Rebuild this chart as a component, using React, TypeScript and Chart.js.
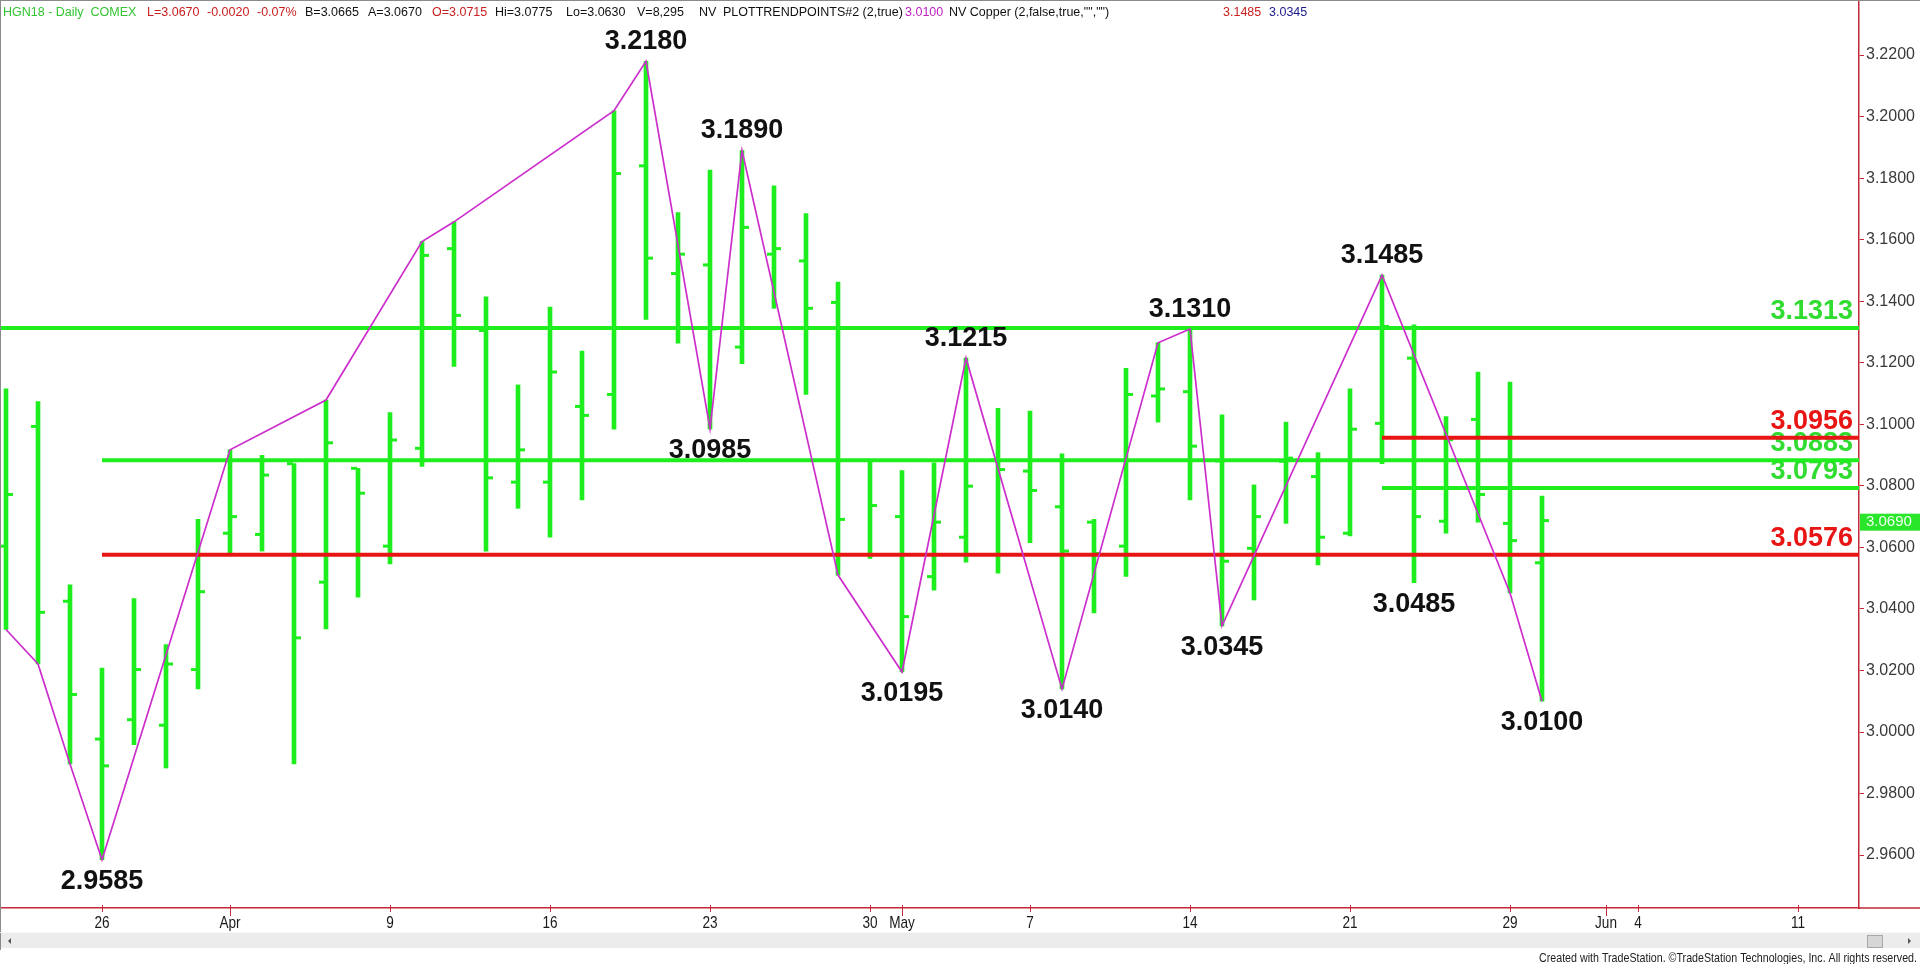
import React, { useEffect, useRef } from 'react';
import { Chart, registerables } from 'chart.js';

Chart.register(...registerables);

// ---- Data (HGN18 Daily, COMEX copper) ----
const tradingDays = [
  'Mar 21', 'Mar 22', 'Mar 23', 'Mar 26', 'Mar 27', 'Mar 28', 'Mar 29',
  'Apr 2', 'Apr 3', 'Apr 4', 'Apr 5', 'Apr 6', 'Apr 9', 'Apr 10', 'Apr 11', 'Apr 12', 'Apr 13',
  'Apr 16', 'Apr 17', 'Apr 18', 'Apr 19', 'Apr 20', 'Apr 23', 'Apr 24', 'Apr 25', 'Apr 26', 'Apr 27',
  'Apr 30', 'May 1', 'May 2', 'May 3', 'May 4', 'May 7', 'May 8', 'May 9', 'May 10', 'May 11',
  'May 14', 'May 15', 'May 16', 'May 17', 'May 18', 'May 21', 'May 22', 'May 23', 'May 24', 'May 25',
  'May 29', 'May 30',
];

const opens = [
  3.0604, 3.0993, 3.0425, 2.9977, 3.0040, 3.0022, 3.0203,
  3.0646, 3.0642, 3.0872, 3.0487, 3.0857, 3.0604, 3.0922, 3.1571, 3.1305, 3.0812,
  3.0812, 3.1058, 3.1097, 3.1840, 3.1490, 3.1518, 3.1251, 3.1553, 3.1531, 3.1396,
  3.0883, 3.0700, 3.0505, 3.0633, 3.0885, 3.0848, 3.0732, 3.0682, 3.0604, 3.1092,
  3.1106, 3.0881, 3.0597, 3.0880, 3.0830, 3.0646, 3.1003, 3.1215, 3.0685, 3.1016,
  3.0678, 3.0550,
];
const highs = [
  3.1115, 3.1074, 3.0478, 3.0208, 3.0434, 3.0284, 3.0691,
  3.0917, 3.0899, 3.0872, 3.1079, 3.0857, 3.1038, 3.1594, 3.1658, 3.1414, 3.1128,
  3.1381, 3.1238, 3.2019, 3.2180, 3.1688, 3.1826, 3.1890, 3.1775, 3.1685, 3.1462,
  3.0886, 3.0850, 3.0875, 3.1215, 3.1052, 3.1043, 3.0904, 3.0691, 3.1182, 3.1265,
  3.1310, 3.1031, 3.0803, 3.1007, 3.0908, 3.1115, 3.1485, 3.1323, 3.1025, 3.1170,
  3.1137, 3.0767,
];
const lows = [
  3.0333, 3.0221, 2.9896, 2.9585, 2.9959, 2.9883, 3.0140,
  3.0577, 3.0588, 2.9896, 3.0335, 3.0438, 3.0546, 3.0863, 3.1188, 3.0588, 3.0727,
  3.0633, 3.0754, 3.0984, 3.1341, 3.1264, 3.0985, 3.1197, 3.1377, 3.1097, 3.0510,
  3.0564, 3.0195, 3.0461, 3.0552, 3.0516, 3.0615, 3.0140, 3.0387, 3.0506, 3.1007,
  3.0754, 3.0345, 3.0429, 3.0678, 3.0543, 3.0637, 3.0872, 3.0485, 3.0646, 3.0682,
  3.0452, 3.0100,
];
const closes = [
  3.0772, 3.0389, 3.0122, 2.9890, 3.0203, 3.0221, 3.0456,
  3.0700, 3.0835, 3.0306, 3.0940, 3.0776, 3.0949, 3.1549, 3.1354, 3.0826, 3.0917,
  3.1170, 3.1029, 3.1815, 3.1540, 3.1553, 3.1310, 3.1640, 3.1571, 3.1377, 3.0691,
  3.0736, 3.0375, 3.0682, 3.0799, 3.0853, 3.0785, 3.0588, 3.0580, 3.1097, 3.1115,
  3.0929, 3.0555, 3.0700, 3.0890, 3.0633, 3.0984, 3.1318, 3.0700, 3.0950, 3.0772,
  3.0622, 3.0687,
];

// x-axis tick labels (trading-day index -> label)
const xTickIdx = [3, 7, 12, 17, 22, 27, 28, 32, 37, 42, 47, 50, 51, 56];
const xTickLabels = ['26', 'Apr', '9', '16', '23', '30', 'May', '7', '14', '21', '29', 'Jun', '4', '11'];
const xTickIsMonth = [false, true, false, false, false, false, true, false, false, false, false, true, false, false];

// y-axis ticks
const yTickStep = 0.02;

// PlotTrendPoints zig-zag
const trendIdx = [0, 1, 2, 3, 7, 10, 13, 14, 19, 20, 22, 23, 26, 28, 30, 33, 36, 37, 38, 43, 47, 48];
const trendVals = [
  3.0333, 3.0221, 2.9896, 2.9585, 3.0917, 3.1079, 3.1594, 3.1658, 3.2019, 3.2180, 3.0985,
  3.1890, 3.0510, 3.0195, 3.1215, 3.0140, 3.1265, 3.1310, 3.0345, 3.1485, 3.0452, 3.0100,
];

// swing labels
const pivotIdx = [3, 20, 22, 23, 28, 30, 33, 37, 38, 43, 44, 48];
const pivotVals = [2.9585, 3.2180, 3.0985, 3.1890, 3.0195, 3.1215, 3.0140, 3.1310, 3.0345, 3.1485, 3.0485, 3.0100];
const pivotAbove = [false, true, false, true, false, true, false, true, false, true, false, false];

// support / resistance levels
const levelVals = [3.1313, 3.0956, 3.0883, 3.0793, 3.0576];
const levelStartIdx = [null, 43, 3, 43, 3];
const levelIsRed = [false, true, false, false, true];

const lastPrice = 3.069;

// header items
const headerTexts = [
  'HGN18 - Daily  COMEX', 'L=3.0670', '-0.0020', '-0.07%', 'B=3.0665', 'A=3.0670', 'O=3.0715',
  'Hi=3.0775', 'Lo=3.0630', 'V=8,295', 'NV', 'PLOTTRENDPOINTS#2 (2,true)', '3.0100',
  'NV Copper (2,false,true,"","")', '3.1485', '3.0345',
];
const footerText = 'Created with TradeStation. \u00A9TradeStation Technologies, Inc. All rights reserved.';

// ---- styling / layout constants ----
const X_MIN = -0.1875;
const X_MAX = 57.906;
const Y_MIN = 2.9428;
const Y_MAX = 3.2379;
const GREEN = '#1EEE1E';
const GREEN_TXT = '#2FDC2F';
const RED = '#E81515';
const MAGENTA = '#CC2ECC';
const AXIS = '#C4283A';
const SANS = '"Liberation Sans", Arial, sans-serif';
const headerX = [3, 147, 207, 257, 305, 368, 432, 495, 566, 637, 699, 723, 905, 949, 1223, 1269];
const headerColors = [
  '#33C433', '#C82020', '#C82020', '#C82020', '#111', '#111', '#C82020',
  '#111', '#111', '#111', '#111', '#111', '#C020C0', '#111', '#C82020', '#1A1A8C',
];

function narrowText(ctx: CanvasRenderingContext2D, text: string, x: number, y: number, k: number, align: string) {
  ctx.save();
  ctx.translate(x, y);
  ctx.scale(k, 1);
  ctx.textAlign = align as CanvasTextAlign;
  ctx.fillText(text, 0, 0);
  ctx.restore();
}

const tsPlugin = {
  id: 'tsPlugin',
  beforeDatasetsDraw(chart: any) {
    const { ctx, scales, chartArea } = chart;
    const y = scales.y;
    ctx.save();
    ctx.font = `bold 27px ${SANS}`;
    ctx.textAlign = 'right';
    ctx.textBaseline = 'alphabetic';
    levelVals.forEach((v, i) => {
      ctx.fillStyle = levelIsRed[i] ? RED : GREEN_TXT;
      ctx.fillText(v.toFixed(4), chartArea.right - 6, y.getPixelForValue(v) - 9);
    });
    ctx.restore();
  },
  afterDatasetDraw(chart: any, args: any) {
    if (args.index !== 0) return;
    const { ctx, scales } = chart;
    const x = scales.x;
    const y = scales.y;
    ctx.save();
    ctx.fillStyle = GREEN;
    for (let i = 0; i < opens.length; i++) {
      const px = Math.round(x.getPixelForValue(i));
      const po = y.getPixelForValue(opens[i]);
      const pc = y.getPixelForValue(closes[i]);
      ctx.fillRect(px - 7, po - 1.5, 6, 3);
      ctx.fillRect(px + 1, pc - 1.5, 6, 3);
    }
    ctx.restore();
  },
  afterDatasetsDraw(chart: any) {
    const { ctx, scales } = chart;
    const x = scales.x;
    const y = scales.y;
    ctx.save();
    ctx.font = `bold 27px ${SANS}`;
    ctx.textAlign = 'center';
    ctx.fillStyle = '#111';
    pivotIdx.forEach((idx, i) => {
      const px = x.getPixelForValue(idx);
      const py = y.getPixelForValue(pivotVals[i]);
      if (pivotAbove[i]) {
        ctx.textBaseline = 'alphabetic';
        ctx.fillText(pivotVals[i].toFixed(4), px, py - 12);
      } else {
        ctx.textBaseline = 'top';
        ctx.fillText(pivotVals[i].toFixed(4), px, py + 8);
      }
    });
    ctx.restore();
  },
  afterDraw(chart: any) {
    const { ctx, scales, chartArea } = chart;
    const x = scales.x;
    const y = scales.y;
    const W = chart.width;
    const B = chartArea.bottom;
    ctx.save();
    // borders
    ctx.strokeStyle = '#8a8a8a';
    ctx.lineWidth = 1;
    ctx.beginPath();
    ctx.moveTo(0, 0.5);
    ctx.lineTo(W, 0.5);
    ctx.moveTo(0.5, 0);
    ctx.lineTo(0.5, 950);
    ctx.stroke();
    // bottom axis extension to the right edge
    ctx.strokeStyle = AXIS;
    ctx.lineWidth = 1.5;
    ctx.beginPath();
    ctx.moveTo(chartArea.right, B);
    ctx.lineTo(W, B);
    ctx.stroke();
    // x tick marks (crossing the axis, longer for months)
    ctx.lineWidth = 1;
    ctx.beginPath();
    xTickIdx.forEach((v, i) => {
      const px = Math.round(x.getPixelForValue(v)) + 0.5;
      ctx.moveTo(px, B - 3);
      ctx.lineTo(px, B + (xTickIsMonth[i] ? 8 : 4));
    });
    ctx.stroke();
    // x tick labels (narrow)
    ctx.fillStyle = '#1a1a1a';
    ctx.font = `17px ${SANS}`;
    ctx.textBaseline = 'middle';
    xTickIdx.forEach((v, i) => {
      narrowText(ctx, xTickLabels[i], x.getPixelForValue(v), B + 15.5, 0.8, 'center');
    });
    // header
    ctx.font = `12.5px ${SANS}`;
    ctx.textAlign = 'left';
    ctx.textBaseline = 'alphabetic';
    headerTexts.forEach((t, i) => {
      ctx.fillStyle = headerColors[i];
      ctx.fillText(t, headerX[i], 16);
    });
    // last price box
    const py = y.getPixelForValue(lastPrice);
    ctx.fillStyle = '#2AE62A';
    ctx.fillRect(chartArea.right + 1, py - 6, W - chartArea.right - 1, 17);
    ctx.fillStyle = '#EFFFEF';
    ctx.font = `15px ${SANS}`;
    ctx.textBaseline = 'middle';
    ctx.fillText(lastPrice.toFixed(4), chartArea.right + 7, py + 2.5);
    // scrollbar
    ctx.fillStyle = '#ECECEC';
    ctx.fillRect(1, 933, W - 1, 15);
    ctx.strokeStyle = '#F8F8F8';
    ctx.beginPath();
    ctx.moveTo(0, 932.5);
    ctx.lineTo(W, 932.5);
    ctx.stroke();
    ctx.fillStyle = '#D6D6D6';
    ctx.fillRect(1867, 935, 15, 12);
    ctx.strokeStyle = '#A8A8A8';
    ctx.strokeRect(1867.5, 935.5, 15, 12);
    ctx.fillStyle = '#555';
    ctx.beginPath();
    ctx.moveTo(1908, 938);
    ctx.lineTo(1911, 941);
    ctx.lineTo(1908, 944);
    ctx.closePath();
    ctx.fill();
    ctx.beginPath();
    ctx.moveTo(11, 938);
    ctx.lineTo(8, 941);
    ctx.lineTo(11, 944);
    ctx.closePath();
    ctx.fill();
    // footer (narrow)
    ctx.fillStyle = '#222';
    ctx.font = `13px ${SANS}`;
    ctx.textBaseline = 'alphabetic';
    const fw = ctx.measureText(footerText).width;
    narrowText(ctx, footerText, 1917, 962, 378 / fw, 'right');
    ctx.restore();
  },
};

export default function App() {
  const ref = useRef<HTMLCanvasElement>(null);
  useEffect(() => {
    document.body.style.margin = '0';
    const barData = highs.map((h, i) => ({ x: i, y: [lows[i], h] }));
    const levelDatasets = levelVals.map((v, i) => ({
      type: 'line' as const,
      label: 'L' + v,
      data: [
        { x: levelStartIdx[i] === null ? X_MIN : (levelStartIdx[i] as number), y: v },
        { x: X_MAX, y: v },
      ],
      borderColor: levelIsRed[i] ? RED : GREEN,
      borderWidth: 4,
      pointRadius: 0,
      tension: 0,
      fill: false,
      order: 2,
    }));
    const chart = new Chart(ref.current as HTMLCanvasElement, {
      type: 'bar',
      data: {
        labels: tradingDays,
        datasets: [
          {
            type: 'bar',
            label: 'HL',
            data: barData as any,
            backgroundColor: GREEN,
            borderWidth: 0,
            barThickness: 4,
            grouped: false,
            order: 3,
          } as any,
          ...levelDatasets,
          {
            type: 'line',
            label: 'Trend',
            data: trendIdx.map((ix, i) => ({ x: ix, y: trendVals[i] })),
            borderColor: MAGENTA,
            borderWidth: 1.7,
            pointRadius: 0,
            tension: 0,
            fill: false,
            order: 1,
          },
        ],
      },
      options: {
        responsive: false,
        animation: false,
        devicePixelRatio: 1,
        layout: { padding: 0 },
        plugins: { legend: { display: false }, tooltip: { enabled: false } },
        scales: {
          x: {
            type: 'linear',
            position: 'bottom',
            min: X_MIN,
            max: X_MAX,
            offset: false,
            afterBuildTicks: (s: any) => {
              s.ticks = xTickIdx.map((v) => ({ value: v }));
            },
            afterFit: (s: any) => {
              s.height = 56;
              s.paddingLeft = 0;
              s.paddingRight = 0;
            },
            ticks: {
              autoSkip: false,
              maxRotation: 0,
              padding: 2,
              color: 'rgba(0,0,0,0)',
              font: { family: SANS, size: 16 },
              callback: (v: any) => {
                const k = xTickIdx.indexOf(Number(v));
                return k >= 0 ? xTickLabels[k] : '';
              },
            },
            grid: { offset: false, drawOnChartArea: false, drawTicks: false, color: AXIS },
            border: { display: true, color: AXIS, width: 1.5 },
          },
          y: {
            type: 'linear',
            position: 'right',
            min: Y_MIN,
            max: Y_MAX,
            afterFit: (s: any) => {
              s.width = 61;
              s.paddingTop = 0;
              s.paddingBottom = 0;
            },
            ticks: {
              stepSize: yTickStep,
              includeBounds: false,
              padding: 2,
              color: '#3a3a3a',
              font: { family: SANS, size: 16 },
              callback: (v: any) => Number(v).toFixed(4),
            },
            grid: { drawOnChartArea: false, drawTicks: true, tickLength: 5, color: AXIS },
            border: { display: true, color: AXIS, width: 1.5 },
          },
        },
      },
      plugins: [tsPlugin],
    } as any);
    return () => chart.destroy();
  }, []);
  return (
    <div style={{ width: 1920, height: 964, position: 'relative', background: '#fff', overflow: 'hidden' }}>
      <canvas ref={ref} width={1920} height={964} style={{ display: 'block' }} />
    </div>
  );
}
